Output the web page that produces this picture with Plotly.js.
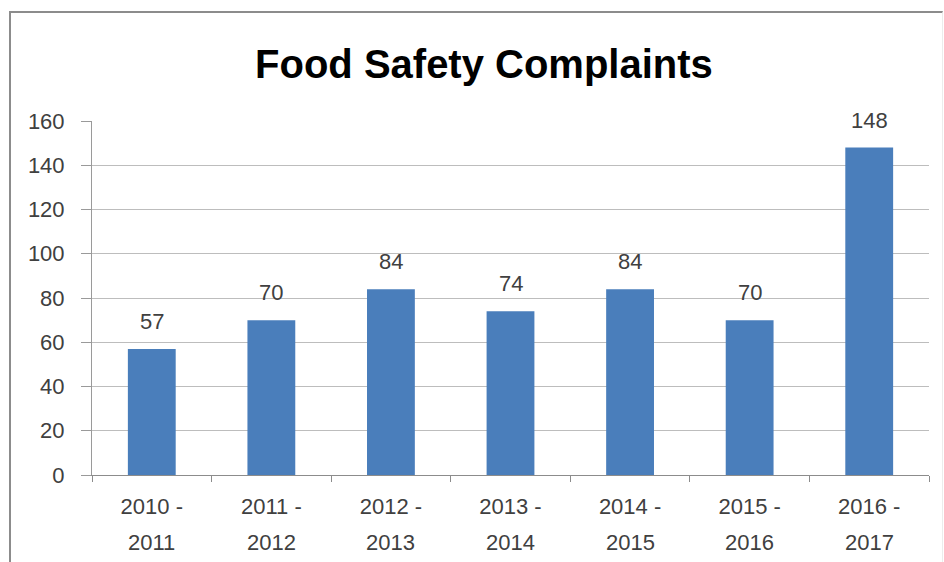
<!DOCTYPE html>
<html>
<head>
<meta charset="utf-8">
<script src="https://cdn.plot.ly/plotly-3.0.1.min.js"></script>
<style>
html,body{margin:0;padding:0;background:#fff;}
#frame{position:absolute;left:9px;top:11px;width:934px;height:551px;border-top:2px solid #8c8c8c;border-left:2px solid #8c8c8c;border-right:1px solid #ececec;box-sizing:border-box;}
#chart{width:931px;height:549px;}
</style>
</head>
<body>
<div id="frame"><div id="chart"></div></div>
<script>
const categories = ["2010 - 2011","2011 - 2012","2012 - 2013","2013 - 2014","2014 - 2015","2015 - 2016","2016 - 2017"];
const labelLine1 = ["2010 -","2011 -","2012 -","2013 -","2014 -","2015 -","2016 -"];
const labelLine2 = ["2011","2012","2013","2014","2015","2016","2017"];
const complaints = [57, 70, 84, 74, 84, 70, 148];
const yTicks = [0, 20, 40, 60, 80, 100, 120, 140, 160];

const font = "Liberation Sans, Arial, sans-serif";
const txtColor = "#404040";

const trace = {
  type: "bar",
  x: categories,
  y: complaints,
  marker: {color: "#4a7ebb"},
  hoverinfo: "none"
};

const annotations = [];
categories.forEach((c, i) => {
  annotations.push({
    x: c, y: complaints[i], xref: "x", yref: "y",
    text: String(complaints[i]), showarrow: false,
    yanchor: "bottom", yshift: 13,
    font: {family: font, size: 22, color: txtColor}
  });
  annotations.push({
    x: c, y: -0.192, xref: "x", yref: "paper",
    text: labelLine2[i], showarrow: false,
    yanchor: "middle",
    font: {family: font, size: 22, color: txtColor}
  });
});

const layout = {
  width: 931, height: 549,
  margin: {l: 81, r: 13, t: 108, b: 87},
  paper_bgcolor: "#fff", plot_bgcolor: "#fff",
  showlegend: false,
  bargap: 0.6,
  title: {
    text: "<b>Food Safety Complaints</b>",
    font: {family: font, size: 40, color: "#000"},
    xref: "container", x: 0.508, xanchor: "center",
    yref: "container", y: 0.907, yanchor: "middle"
  },
  xaxis: {
    type: "category",
    tickmode: "array", tickvals: categories, ticktext: labelLine1,
    tickson: "boundaries", ticks: "outside", ticklen: 6, tickcolor: "#8c8c8c",
    showline: true, linecolor: "#8c8c8c", linewidth: 1,
    showgrid: false,
    tickfont: {family: font, size: 22, color: txtColor},
    ticklabelstandoff: 12
  },
  yaxis: {
    range: [0, 160],
    tickmode: "array", tickvals: yTicks,
    ticks: "outside", ticklen: 10, tickcolor: "#9a9a9a",
    showline: true, linecolor: "#9a9a9a", linewidth: 1,
    showgrid: true, gridcolor: "#bdbdbd", gridwidth: 1,
    zeroline: false,
    tickfont: {family: font, size: 22, color: txtColor},
    ticklabelstandoff: 12
  },
  annotations: annotations
};

Plotly.newPlot("chart", [trace], layout, {staticPlot: true, displayModeBar: false});
</script>
</body>
</html>
